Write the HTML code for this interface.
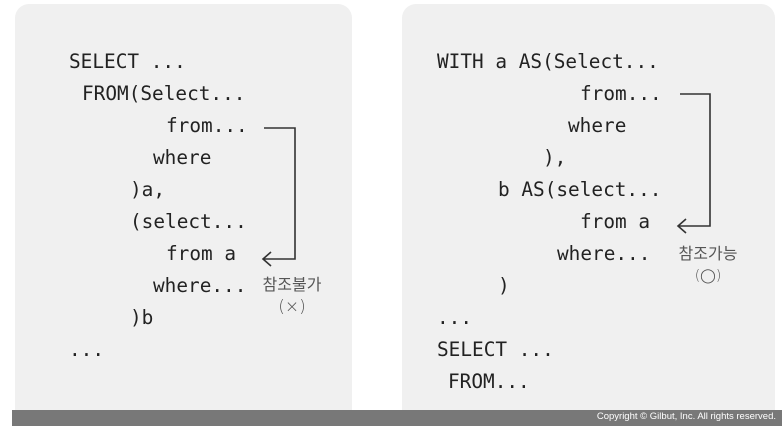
<!DOCTYPE html>
<html><head><meta charset="utf-8"><style>
body{margin:0;width:782px;height:438px;background:#fff;position:relative;overflow:hidden}
.bar{position:absolute;left:12px;top:410px;width:770px;height:16px;background:#787878}
.p{position:absolute;background:#f0f0f0;border-radius:14px}
.t{position:absolute;font-family:"DejaVu Sans Mono","Liberation Mono",monospace;font-size:19.4px;color:#222;line-height:20px;white-space:pre}
.k{position:absolute;font-family:"Noto Sans CJK KR","Liberation Sans",sans-serif;font-size:16px;color:#555;text-align:center;width:80px;line-height:20px}
.s{position:absolute;font-family:"DejaVu Sans",sans-serif;font-size:17px;color:#555;text-align:center;width:80px;line-height:20px;font-weight:200}
.c{position:absolute;right:6px;top:411px;font-family:"Liberation Sans",sans-serif;font-size:9.5px;color:#fff}
</style></head><body>
<div class="p" style="left:15px;top:4px;width:337px;height:420px"></div>
<div class="p" style="left:402px;top:4px;width:373px;height:420px"></div>
<div class="bar"></div>
<div class="c">Copyright © Gilbut, Inc. All rights reserved.</div>
<div class="t" style="left:69px;top:52px">SELECT ...</div>
<div class="t" style="left:82px;top:84px">FROM(Select...</div>
<div class="t" style="left:166px;top:116px">from...</div>
<div class="t" style="left:153px;top:148px">where</div>
<div class="t" style="left:130px;top:180px">)a,</div>
<div class="t" style="left:130px;top:212px">(select...</div>
<div class="t" style="left:166px;top:244px">from a</div>
<div class="t" style="left:153px;top:276px">where...</div>
<div class="t" style="left:130px;top:308px">)b</div>
<div class="t" style="left:69px;top:340px">...</div>
<div class="k" style="left:252px;top:273px">참조불가</div>
<div class="s" style="left:252px;top:297px">(×)</div>

<div class="t" style="left:437px;top:52px">WITH a AS(Select...</div>
<div class="t" style="left:580px;top:84px">from...</div>
<div class="t" style="left:568px;top:116px">where</div>
<div class="t" style="left:543px;top:148px">),</div>
<div class="t" style="left:498px;top:180px">b AS(select...</div>
<div class="t" style="left:580px;top:212px">from a</div>
<div class="t" style="left:557px;top:244px">where...</div>
<div class="t" style="left:498px;top:276px">)</div>
<div class="t" style="left:437px;top:308px">...</div>
<div class="t" style="left:437px;top:340px">SELECT ...</div>
<div class="t" style="left:448px;top:372px">FROM...</div>
<div class="k" style="left:668px;top:242px">참조가능</div>
<div class="s" style="left:668px;top:266px;font-size:14px">(◯)</div>

<svg width="782" height="438" style="position:absolute;left:0;top:0" fill="none" stroke="#333" stroke-width="1.6">
<path d="M264 128H295V259H263M271 252L263 259L271 266"/>
<path d="M680 94H710V226H678M686 219L678 226L686 233"/>
</svg>
</body></html>
